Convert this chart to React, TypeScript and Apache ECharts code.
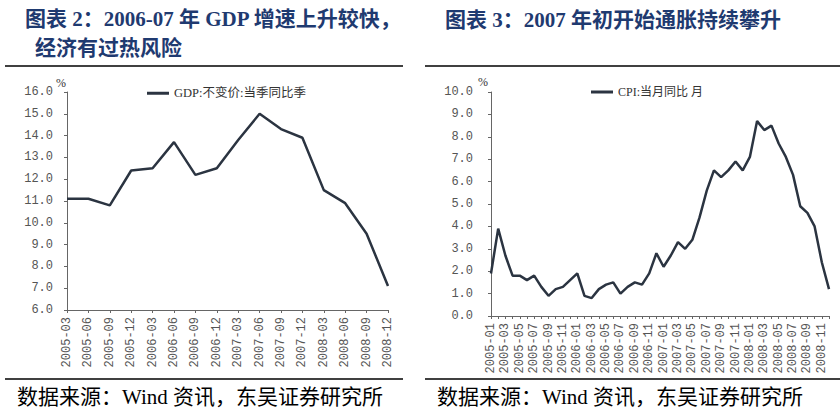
import React, { useEffect, useRef } from "react";
import * as echarts from "echarts";

const gdpQuarters = [
  "2005-03", "2005-06", "2005-09", "2005-12",
  "2006-03", "2006-06", "2006-09", "2006-12",
  "2007-03", "2007-06", "2007-09", "2007-12",
  "2008-03", "2008-06", "2008-09", "2008-12",
];
const gdpValues = [11.1, 11.1, 10.8, 12.4, 12.5, 13.7, 12.2, 12.5, 13.8, 15.0, 14.3, 13.9, 11.5, 10.9, 9.5, 7.1];

const cpiMonths = [
  "2005-01", "2005-02", "2005-03", "2005-04", "2005-05", "2005-06", "2005-07", "2005-08", "2005-09", "2005-10", "2005-11", "2005-12",
  "2006-01", "2006-02", "2006-03", "2006-04", "2006-05", "2006-06", "2006-07", "2006-08", "2006-09", "2006-10", "2006-11", "2006-12",
  "2007-01", "2007-02", "2007-03", "2007-04", "2007-05", "2007-06", "2007-07", "2007-08", "2007-09", "2007-10", "2007-11", "2007-12",
  "2008-01", "2008-02", "2008-03", "2008-04", "2008-05", "2008-06", "2008-07", "2008-08", "2008-09", "2008-10", "2008-11", "2008-12",
];
const cpiValues = [
  1.9, 3.9, 2.7, 1.8, 1.8, 1.6, 1.8, 1.3, 0.9, 1.2, 1.3, 1.6,
  1.9, 0.9, 0.8, 1.2, 1.4, 1.5, 1.0, 1.3, 1.5, 1.4, 1.9, 2.8,
  2.2, 2.7, 3.3, 3.0, 3.4, 4.4, 5.6, 6.5, 6.2, 6.5, 6.9, 6.5,
  7.1, 8.7, 8.3, 8.5, 7.7, 7.1, 6.3, 4.9, 4.6, 4.0, 2.4, 1.2,
];

const gdpName = "GDP:不变价:当季同比季";
const cpiName = "CPI:当月同比 月";
const leftTitle1 = "图表 2：2006-07 年 GDP 增速上升较快，";
const leftTitle2 = "经济有过热风险";
const rightTitle = "图表 3：2007 年初开始通胀持续攀升";
const sourceText = "数据来源：Wind 资讯，东吴证券研究所";

const LINE_COLOR = "#2b3441";
const AXIS_COLOR = "#666";
const LABEL_COLOR = "#555";
const TITLE_COLOR = "#1f3a70";
const MONO = '"Liberation Mono", "DejaVu Sans Mono", monospace';
const SERIF_CJK = '"Liberation Serif", "Noto Sans CJK SC", serif';

export default function App() {
  const ref = useRef<HTMLDivElement>(null);

  useEffect(() => {
    if (!ref.current) return;
    const chart = echarts.init(ref.current, undefined, { renderer: "svg" });

    const xAxisCommon = {
      type: "category" as const,
      boundaryGap: false,
      axisLine: { lineStyle: { color: AXIS_COLOR, width: 1 } },
      axisTick: { show: true, length: 3, lineStyle: { color: AXIS_COLOR } },
      axisLabel: {
        rotate: 90,
        color: LABEL_COLOR,
        fontFamily: MONO,
        fontSize: 12,
        margin: 7,
      },
      splitLine: { show: false },
    };
    const yAxisCommon = {
      type: "value" as const,
      interval: 1,
      axisLine: { show: true, lineStyle: { color: AXIS_COLOR, width: 1 } },
      axisTick: { show: true, length: 3, lineStyle: { color: AXIS_COLOR } },
      splitLine: { show: false },
      axisLabel: {
        color: LABEL_COLOR,
        fontFamily: MONO,
        fontSize: 12,
        formatter: (v: number) => v.toFixed(1),
      },
    };

    const titleFont = `bold 21px ${SERIF_CJK}`;
    const sourceFont = `21px ${SERIF_CJK}`;

    chart.setOption({
      animation: false,
      backgroundColor: "#ffffff",
      grid: [
        { left: 67, top: 92, width: 321, height: 218, containLabel: false },
        { left: 491, top: 92, width: 338, height: 224, containLabel: false },
      ],
      xAxis: [
        {
          ...xAxisCommon,
          gridIndex: 0,
          data: gdpQuarters,
          axisTick: { ...xAxisCommon.axisTick, interval: 0 },
          axisLabel: { ...xAxisCommon.axisLabel, interval: 0 },
        },
        {
          ...xAxisCommon,
          gridIndex: 1,
          data: cpiMonths,
          axisTick: { ...xAxisCommon.axisTick, interval: 0 },
          axisLabel: { ...xAxisCommon.axisLabel, interval: 1 },
        },
      ],
      yAxis: [
        { ...yAxisCommon, gridIndex: 0, min: 6, max: 16, axisLabel: { ...yAxisCommon.axisLabel, margin: 14 } },
        { ...yAxisCommon, gridIndex: 1, min: 0, max: 10, axisLabel: { ...yAxisCommon.axisLabel, margin: 18 } },
      ],
      legend: [
        {
          data: [gdpName],
          left: 142,
          top: 82,
          icon: "rect",
          itemWidth: 22,
          itemHeight: 3,
          textStyle: { color: "#333", fontSize: 12.5, fontFamily: SERIF_CJK },
          selectedMode: false,
        },
        {
          data: [cpiName],
          left: 586,
          top: 81,
          icon: "rect",
          itemWidth: 22,
          itemHeight: 3,
          textStyle: { color: "#333", fontSize: 12, fontFamily: SERIF_CJK },
          selectedMode: false,
        },
      ],
      series: [
        {
          name: gdpName,
          type: "line",
          xAxisIndex: 0,
          yAxisIndex: 0,
          data: gdpValues,
          showSymbol: false,
          symbol: "none",
          lineStyle: { color: LINE_COLOR, width: 2.5 },
          itemStyle: { color: LINE_COLOR },
        },
        {
          name: cpiName,
          type: "line",
          xAxisIndex: 1,
          yAxisIndex: 1,
          data: cpiValues,
          showSymbol: false,
          symbol: "none",
          lineStyle: { color: LINE_COLOR, width: 2.5 },
          itemStyle: { color: LINE_COLOR },
        },
      ],
      graphic: [
        { type: "text", x: 25, y: 19, style: { text: leftTitle1, font: titleFont, fill: TITLE_COLOR, textVerticalAlign: "middle" } },
        { type: "text", x: 35, y: 48, style: { text: leftTitle2, font: titleFont, fill: TITLE_COLOR, textVerticalAlign: "middle" } },
        { type: "text", x: 445, y: 20, style: { text: rightTitle, font: titleFont, fill: TITLE_COLOR, textVerticalAlign: "middle" } },
        { type: "line", shape: { x1: 5, y1: 66, x2: 403, y2: 66 }, style: { stroke: "#000", lineWidth: 1.5 } },
        { type: "line", shape: { x1: 425, y1: 66, x2: 840, y2: 66 }, style: { stroke: "#000", lineWidth: 1.5 } },
        { type: "line", shape: { x1: 5, y1: 379, x2: 403, y2: 379 }, style: { stroke: "#000", lineWidth: 1.5 } },
        { type: "line", shape: { x1: 425, y1: 379, x2: 840, y2: 379 }, style: { stroke: "#000", lineWidth: 1.5 } },
        { type: "text", x: 17, y: 397, style: { text: sourceText, font: sourceFont, fill: "#000", textVerticalAlign: "middle" } },
        { type: "text", x: 437, y: 397, style: { text: sourceText, font: sourceFont, fill: "#000", textVerticalAlign: "middle" } },
        { type: "text", x: 56, y: 83, style: { text: "%", font: `12px ${SERIF_CJK}`, fill: "#333", textVerticalAlign: "middle" } },
        { type: "text", x: 478, y: 82, style: { text: "%", font: `12px ${SERIF_CJK}`, fill: "#333", textVerticalAlign: "middle" } },
      ],
    });

    return () => chart.dispose();
  }, []);

  return (
    <div
      ref={ref}
      style={{ position: "fixed", left: 0, top: 0, width: 840, height: 415 }}
    />
  );
}
